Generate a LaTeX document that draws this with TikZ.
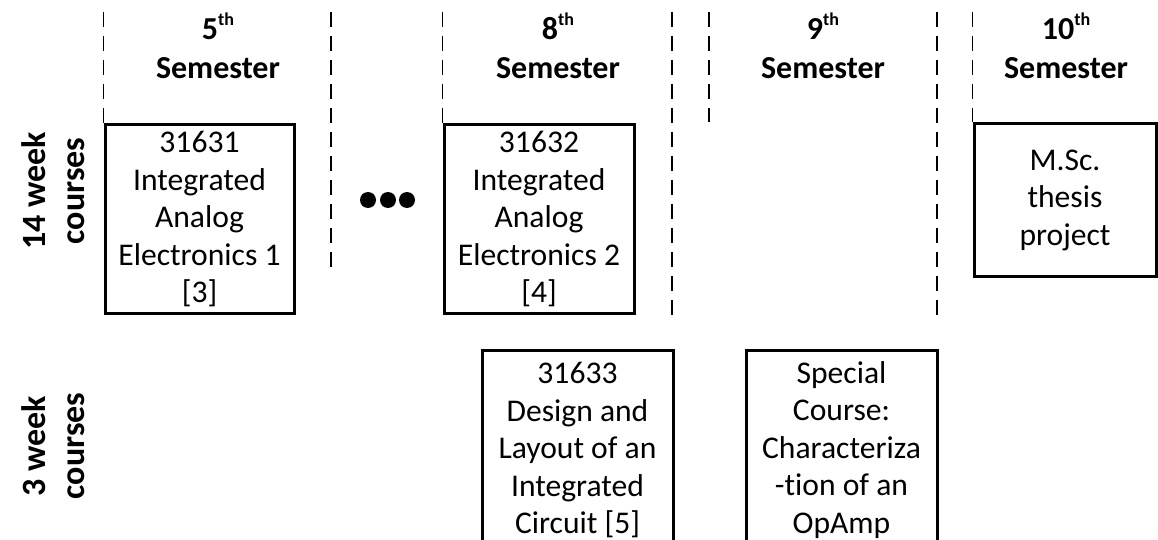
\documentclass[tikz,border=0pt]{standalone}
\usepackage{fontspec}
\setmainfont[Ligatures=NoCommon]{Carlito}
\newcommand{\ordsup}[1]{\raisebox{7pt}{\fontsize{9}{9}\selectfont #1}}
\begin{document}
\begin{tikzpicture}[x=0.5pt,y=-0.5pt,
  course/.style={draw=black,line width=1.5pt,align=center,inner sep=0pt,
    font=\fontsize{15.8}{18.75}\selectfont},
  sep/.style={draw=black,line width=0.9pt,dash pattern=on 7.5pt off 4.5pt},
  head/.style={font=\fontsize{16}{19}\selectfont\bfseries,anchor=base,inner sep=0pt},
  rowlab/.style={font=\fontsize{17}{19.5}\selectfont\bfseries,align=center,rotate=90,inner sep=0pt}]
\useasboundingbox (0,0) rectangle (1158,540);

% course boxes
\node[course,minimum width=94.5pt,minimum height=94.5pt] (c1) at (199.5,219)
  {31631\\Integrated\\Analog\\Electronics 1\\{[3]}};
\node[course,minimum width=95pt,minimum height=94.5pt] (c2) at (539,219)
  {31632\\Integrated\\Analog\\Electronics 2\\{[4]}};
\node[course,minimum width=91pt,minimum height=76pt] (c3) at (1065,200)
  {M.Sc.\\thesis\\project};
\node[course,minimum width=95.5pt,minimum height=100pt] (c4) at (577.5,450)
  {31633\\Design and\\Layout of an\\Integrated\\Circuit [5]};
\node[course,minimum width=95.5pt,minimum height=100pt] (c5) at (841.5,450)
  {Special\\Course:\\Characteriza\\-tion of an\\OpAmp};

% semester headers
\node[head] (h5a) at (218,40) {5\ordsup{th}};
\node[head] (h5b) at (218,79) {Semester};
\node[head] (h8a) at (558,40) {8\ordsup{th}};
\node[head] (h8b) at (558,79) {Semester};
\node[head] (h9a) at (823,40) {9\ordsup{th}};
\node[head] (h9b) at (823,79) {Semester};
\node[head] (h10a) at (1066,40) {10\ordsup{th}};
\node[head] (h10b) at (1066,79) {Semester};

% row labels
\node[rowlab] (r14) at (53,191) {14 week\\courses};
\node[rowlab] (r3) at (53,446) {3 week\\courses};

% dashed separators
\coordinate (d1t) at (c1.north west |- 0,12);
\coordinate (d2t) at (331,12);
\coordinate (d2b) at (331,276);
\coordinate (d3t) at (c2.north west |- 0,12);
\coordinate (d4t) at (672,12);
\coordinate (d4b) at (672,315);
\coordinate (d5t) at (709,12);
\coordinate (d5b) at (709,122);
\coordinate (d6t) at (937,12);
\coordinate (d6b) at (937,315);
\coordinate (d7t) at (c3.north west |- 0,12);
\draw[sep] (d1t) -- (c1.north west);
\draw[sep] (d2t) -- (d2b);
\draw[sep] (d3t) -- (c2.north west);
\draw[sep] (d4t) -- (d4b);
\draw[sep] (d5t) -- (d5b);
\draw[sep] (d6t) -- (d6b);
\draw[sep] (d7t) -- (c3.north west);

% ellipsis dots
\fill (368,200) circle[radius=4pt];
\fill (388,200) circle[radius=4pt];
\fill (407,200) circle[radius=4pt];
\end{tikzpicture}
\end{document}
